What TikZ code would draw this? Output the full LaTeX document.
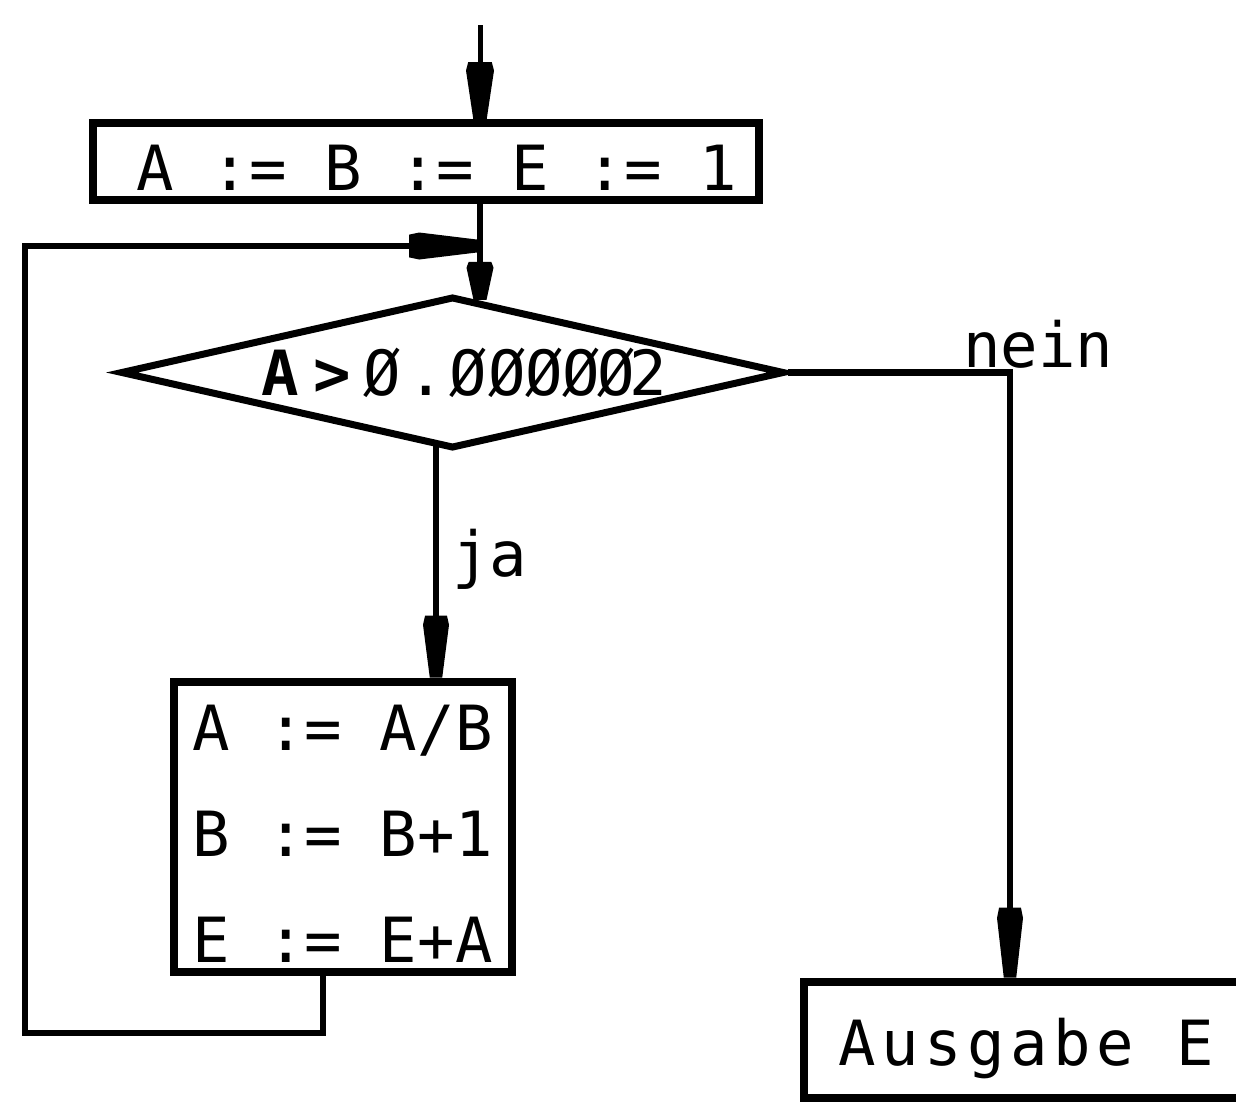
\documentclass[tikz,border=0pt]{standalone}
\usepackage{fontspec}
\newfontfamily\plotfont{DejaVu Sans Mono}
\newfontfamily\plotfontwide[LetterSpace=8.8]{DejaVu Sans Mono}
\usetikzlibrary{shapes.geometric,arrows.meta}
\newcommand\plotsize{\fontsize{62.3pt}{106pt}\selectfont}
\newcommand\cell[2]{\makebox[#1pt][c]{#2}}
\pgfdeclarearrow{
  name = Taper,
  parameters = {\the\pgfarrowlength,\the\pgfarrowwidth},
  setup code = {
    \pgfarrowssettipend{0pt}
    \pgfarrowssetbackend{-\pgfarrowlength}
    \pgfarrowssetlineend{-.5\pgfarrowlength}
    \pgfarrowssavethe\pgfarrowlength
    \pgfarrowssavethe\pgfarrowwidth
  },
  drawing code = {
    \pgfpathmoveto{\pgfqpoint{0pt}{.24\pgfarrowwidth}}
    \pgfpathlineto{\pgfqpoint{-.85\pgfarrowlength}{.5\pgfarrowwidth}}
    \pgfpathlineto{\pgfqpoint{-\pgfarrowlength}{.42\pgfarrowwidth}}
    \pgfpathlineto{\pgfqpoint{-\pgfarrowlength}{-.42\pgfarrowwidth}}
    \pgfpathlineto{\pgfqpoint{-.85\pgfarrowlength}{-.5\pgfarrowwidth}}
    \pgfpathlineto{\pgfqpoint{0pt}{-.24\pgfarrowwidth}}
    \pgfpathclose
    \pgfusepathqfill
  },
  defaults = {length = 60pt, width = 26pt}
}
\begin{document}
\begin{tikzpicture}[x=1pt, y=-1pt,
  box/.style={draw, rectangle, line width=8pt, inner sep=0pt, font=\plotfont\plotsize},
  decision/.style={draw, diamond, line width=7pt, inner sep=0pt, aspect=4.3, font=\plotfont\plotsize},
  lbl/.style={inner sep=0pt, font=\plotfont\plotsize},
  conn/.style={line width=6.5pt},
]
\useasboundingbox (0,0) rectangle (1236,1101);
\fill[white] (0,0) rectangle (1236,1101);
\clip (0,0) rectangle (1236,1101);

% nodes
\node[box, minimum width=666pt, minimum height=77pt, text height=57pt, text depth=0pt]
  (init) at (426,161.5) {\hspace*{22pt}A := B := E := 1};
\node[decision, minimum width=664pt, minimum height=152pt, text height=45pt, text depth=0pt]
  (test) at (452.5,372.5)
  {\hspace*{12pt}\cell{52.5}{\bfseries A}\cell{52.5}{\bfseries >}\cell{46.5}{Ø}\cell{42.5}{.}%
   \cell{40.5}{Ø}\cell{37}{Ø}\cell{37}{Ø}\cell{37}{Ø}\cell{33.5}{Ø}\cell{30}{2}};
\node[box, minimum width=338pt, minimum height=290pt, text height=271pt, text depth=0pt]
  (body) at (342.5,826.5) {\begin{tabular}[b]{@{}l@{}}A := A/B\\B := B+1\\E := E+A\end{tabular}};
\node[box, minimum width=446pt, minimum height=116.5pt, text height=50.5pt, text depth=0pt,
  font=\plotfontwide\plotsize]
  (out) at (1026.5,1039.75) {Ausgabe E};

% labels
\node[lbl, anchor=base west] (nein) at (963,367) {nein};
\node[lbl, anchor=base west] (ja) at (452,576) {ja};

% helper coordinates
\coordinate (start) at (480,25);
\coordinate (merge) at (477,246);
\coordinate (loopX) at (323,0);
\coordinate (loopBL) at (25,1033);
\coordinate (neinX) at (1010,0);
\coordinate (jaX) at (436,0);

% connectors
\draw[conn, line width=5pt, -{Taper[length=57pt,width=28pt]}] (start) -- (init.north -| start);
\draw[conn, -{Taper[length=38pt,width=27pt]}] (init.south -| start) -- (test.68 -| start);
\draw[conn, -{Taper[length=68pt,width=27pt]}] (body.south -| loopX) |- (loopBL) |- (merge);
\draw[conn, -{Taper[length=70pt,width=26pt]}] (test.east) -| (out.north -| neinX);
\draw[conn, -{Taper[length=62pt,width=26pt]}] ([yshift=6pt]test.south -| jaX) -- (body.north -| jaX);
\end{tikzpicture}
\end{document}
